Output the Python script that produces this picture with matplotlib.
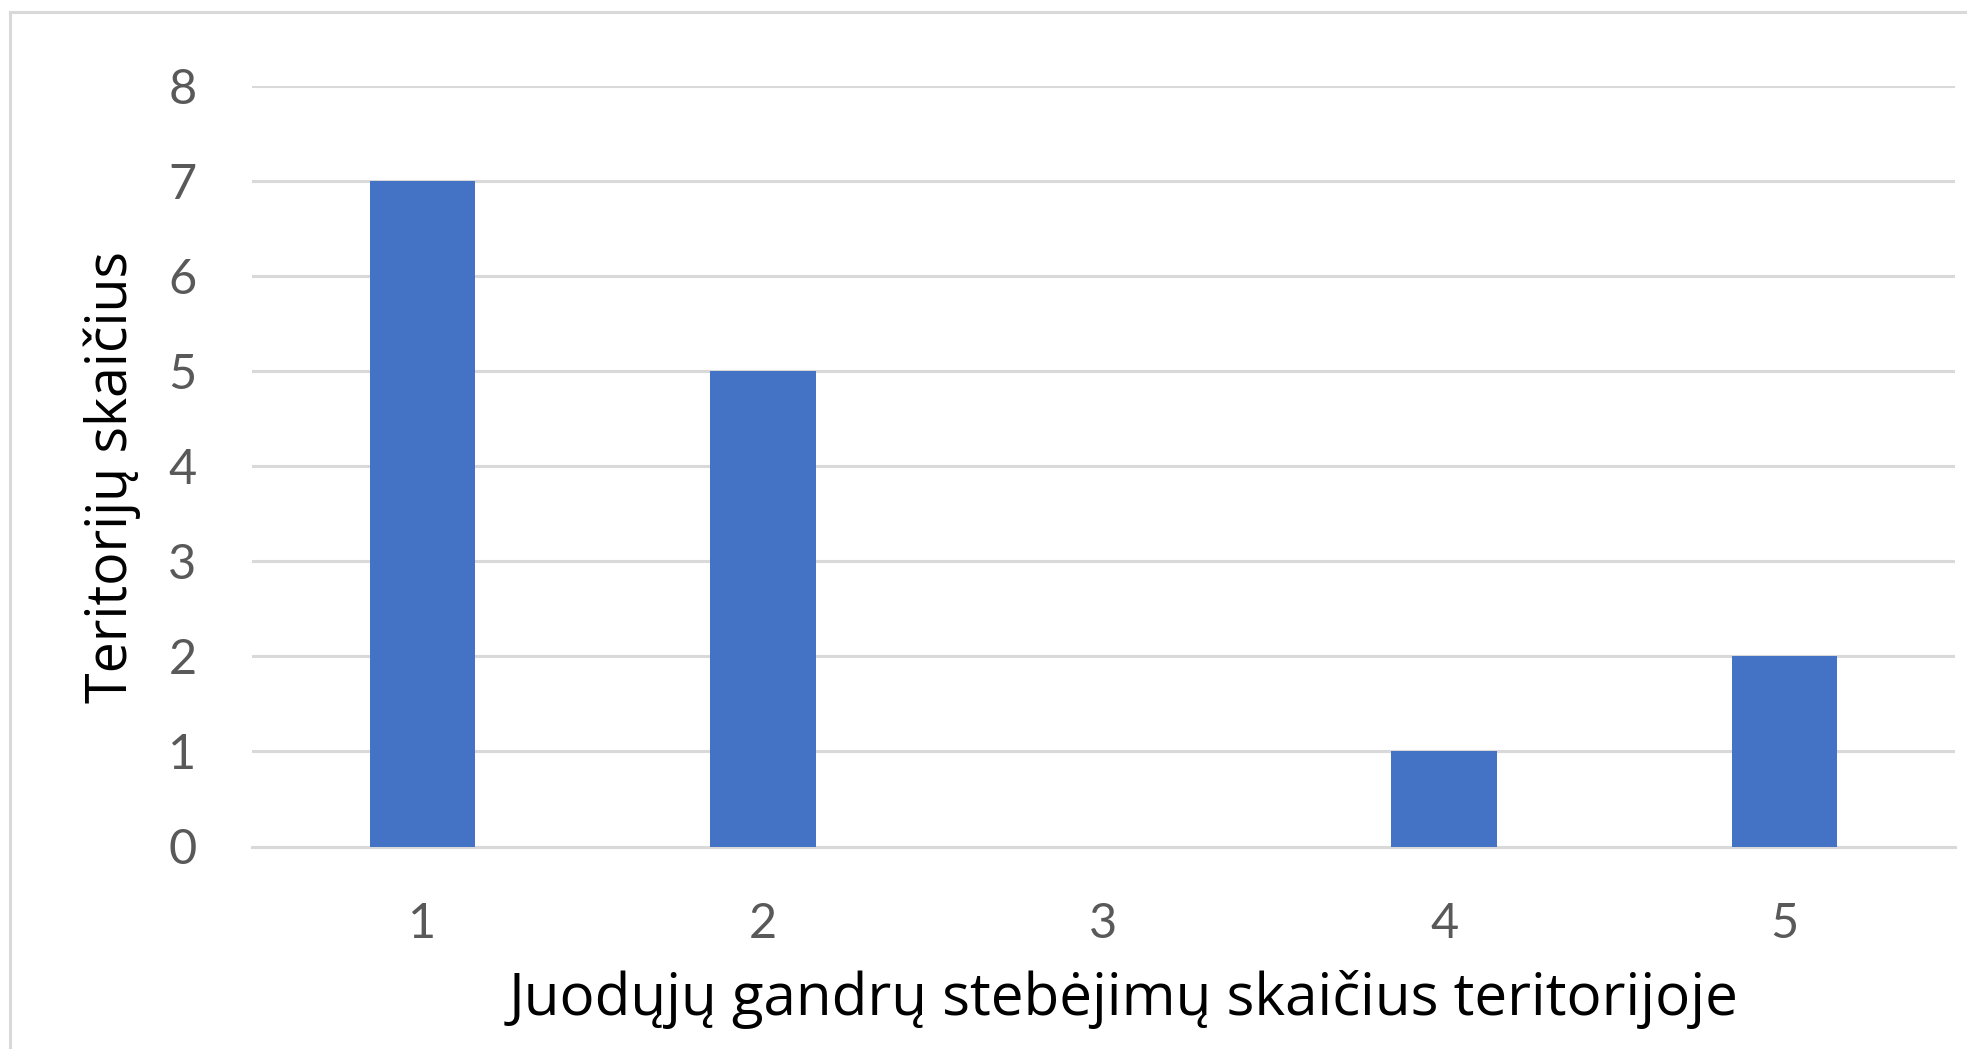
import matplotlib
matplotlib.use("Agg")
import matplotlib.pyplot as plt
from matplotlib.lines import Line2D

# Chart data
categories = ["1", "2", "3", "4", "5"]
territory_counts = [7, 5, 0, 1, 2]
y_ticks = [0, 1, 2, 3, 4, 5, 6, 7, 8]

x_title = "Juodųjų gandrų stebėjimų skaičius teritorijoje"
y_title = "Teritorijų skaičius"

plt.rcParams['font.family'] = ['Lato', 'DejaVu Sans']

W, H = 1967, 1049
fig = plt.figure(figsize=(W / 100, H / 100), dpi=100)
ax = fig.add_axes([252 / W, 1 - 846.5 / H, 1703 / W, 761 / H])

positions = list(range(len(categories)))
ax.bar(positions, territory_counts, width=0.31, color='#4472C4', zorder=3)

ax.set_xlim(-0.5, len(categories) - 0.5)
ax.set_ylim(0, 8)
ax.set_xticks(positions)
ax.set_xticklabels(categories)
ax.set_yticks(y_ticks)

# Grid only horizontal, no spines
ax.yaxis.grid(True, color='#d9d9d9', linewidth=2.2, zorder=0)
ax.set_axisbelow(True)
for s in ax.spines.values():
    s.set_visible(False)
ax.tick_params(axis='both', length=0, labelsize=35, labelcolor='#595959')
ax.tick_params(axis='x', pad=40)
ax.tick_params(axis='y', pad=40)
# also draw zero line (grid at 0 can be clipped)
ax.axhline(0, color='#d9d9d9', linewidth=2.2, zorder=2, clip_on=False)

title_font = ['Open Sans', 'DejaVu Sans']
ax.set_xlabel(x_title, fontsize=42, color='black', family=title_font)
ax.xaxis.label.set_va('baseline')
ax.xaxis.set_label_coords(0.512, -0.2215)
ax.set_ylabel(y_title, fontsize=40, color='black', family=title_font)
ax.yaxis.label.set_va('center')
ax.yaxis.set_label_coords(-0.082, 0.486)

# Outer chart frame (top and left edges visible)
fig.add_artist(Line2D([10 / W, 10 / W], [0, 1 - 12 / H], color='#d9d9d9', linewidth=2.2))
fig.add_artist(Line2D([10 / W, 1], [1 - 12 / H, 1 - 12 / H], color='#d9d9d9', linewidth=2.2))

fig.savefig("out.png", dpi=100, facecolor='white')
